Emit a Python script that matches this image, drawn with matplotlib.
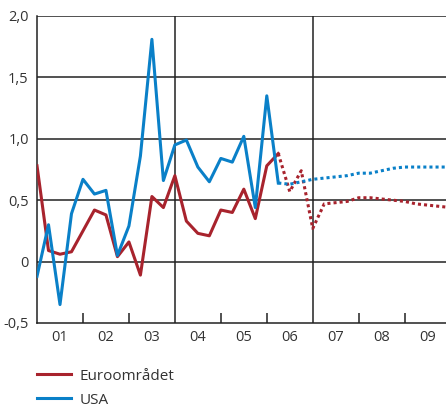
import numpy as np
import matplotlib.pyplot as plt
from matplotlib.ticker import FixedLocator

plt.rcParams['font.family'] = ['Open Sans', 'DejaVu Sans']

# Quarterly values starting 2001 Q1
euro = [0.78, 0.09, 0.06, 0.08, 0.25, 0.42, 0.38, 0.04, 0.16, -0.11,
        0.53, 0.44, 0.70, 0.33, 0.23, 0.21, 0.42, 0.40, 0.59, 0.35,
        0.78, 0.88]
euro_fc = [0.88, 0.57, 0.74, 0.27, 0.47, 0.48, 0.49, 0.52, 0.52, 0.51,
           0.50, 0.49, 0.47, 0.46, 0.45, 0.44]
usa = [-0.12, 0.30, -0.35, 0.39, 0.67, 0.55, 0.58, 0.05, 0.29, 0.86,
       1.81, 0.66, 0.95, 0.99, 0.77, 0.65, 0.84, 0.81, 1.02, 0.44,
       1.35, 0.64]
usa_fc = [0.64, 0.63, 0.65, 0.67, 0.68, 0.69, 0.70, 0.72, 0.72, 0.74,
          0.76, 0.77, 0.77, 0.77, 0.77, 0.77]
year_labels = ['01', '02', '03', '04', '05', '06', '07', '08', '09']
y_labels = ['-0,5', '0', '0,5', '1,0', '1,5', '2,0']

red = '#a8232d'
blue = '#0a80c8'

x_hist = 2001 + 0.25 * np.arange(len(euro))
x_fc = 2001 + 0.25 * (len(euro) - 1 + np.arange(len(euro_fc)))

fig = plt.figure(figsize=(4.46, 4.07), dpi=100)
ax = fig.add_axes([0.083, 0.2064, 0.917, 0.7543])

ax.plot(x_hist, euro, color=red, lw=2.2, label='Euroområdet', zorder=4)
ax.plot(x_hist, usa, color=blue, lw=2.2, label='USA', zorder=4)
ax.plot(x_fc, euro_fc, color=red, lw=2.2, ls=(0, (1, 1)), zorder=4)
ax.plot(x_fc, usa_fc, color=blue, lw=2.2, ls=(0, (1, 1)), zorder=4)

ax.set_xlim(2001, 2009.9)
ax.set_ylim(-0.5, 2.0)

for v in [0, 0.5, 1.0, 1.5, 2.0]:
    ax.axhline(v, color='#222222', lw=1.1, zorder=1)
for v in [2004, 2007]:
    ax.axvline(v, color='#222222', lw=1.1, zorder=1)

for s in ['top', 'right']:
    ax.spines[s].set_visible(False)
ax.spines['left'].set_linewidth(1.1)
ax.spines['bottom'].set_linewidth(1.1)
ax.spines['left'].set_color('#222222')
ax.spines['bottom'].set_color('#222222')

ax.set_yticks([-0.5, 0, 0.5, 1.0, 1.5, 2.0])
ax.set_yticklabels(y_labels)
ax.tick_params(axis='y', length=0, pad=6, labelsize=10.5, labelcolor='#333333')

ax.set_xticks([2001.5 + i for i in range(9)])
ax.set_xticklabels(year_labels)
ax.xaxis.set_minor_locator(FixedLocator([2002, 2003, 2005, 2006, 2008, 2009]))
ax.tick_params(axis='x', which='major', length=0, pad=5, labelsize=10.5,
               labelcolor='#333333')
ax.tick_params(axis='x', which='minor', direction='in', length=7,
               width=1.1, color='#222222')

fig.legend(loc='lower left', bbox_to_anchor=(0.083, -0.002), frameon=False,
           fontsize=11, handlelength=2.2, handletextpad=0.6,
           labelspacing=0.6, borderpad=0, borderaxespad=0,
           labelcolor='#333333')

fig.savefig('out.png', dpi=100)
